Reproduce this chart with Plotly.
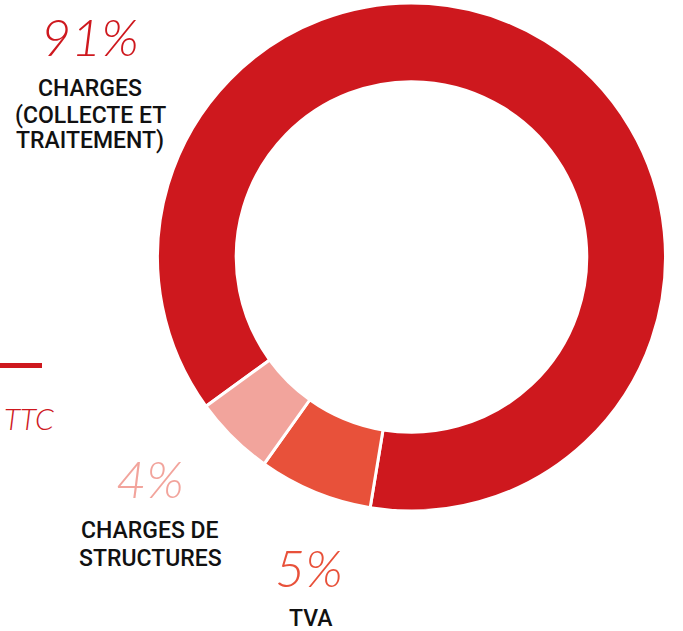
import plotly.graph_objects as go

W, H = 683, 631

# Data
categories = ["CHARGES (COLLECTE ET TRAITEMENT)", "TVA", "CHARGES DE STRUCTURES"]
values = [87.6, 7.25, 5.15]          # slice sizes as drawn
pct_labels = ["91%", "5%", "4%"]     # printed labels
colors = ["#CE181E", "#E8513A", "#F2A49C"]

fig = go.Figure()

cx, cy, r = 411.5, 257, 254
fig.add_trace(go.Pie(
    labels=categories,
    values=values,
    sort=False,
    direction="clockwise",
    rotation=234,
    hole=0.69,
    marker=dict(colors=colors, line=dict(color="white", width=3)),
    textinfo="none",
    hoverinfo="label+percent",
    showlegend=False,
    domain=dict(x=[(cx - r) / W, (cx + r) / W], y=[(H - cy - r) / H, (H - cy + r) / H]),
))

def px(x, y):
    return x / W, 1 - y / H

anns = []
def add_text(text, x, y, size, color, family="Roboto", weight=500, style="normal", xanchor="center"):
    ax, ay = px(x, y)
    anns.append(dict(text=text, x=ax, y=ay, xref="paper", yref="paper",
                     xanchor=xanchor, yanchor="middle", showarrow=False,
                     font=dict(family=family, size=size, color=color, weight=weight, style=style)))

pct_font = "Lato"
# 91%
add_text(pct_labels[0], 90, 36, 52, colors[0], family=pct_font, weight=300, style="italic")
add_text("CHARGES", 90, 89, 23, "#111111")
add_text("(COLLECTE ET", 90, 115, 23, "#111111")
add_text("TRAITEMENT)", 90, 141, 23, "#111111")
# 4%
add_text(pct_labels[2], 150, 478, 52, colors[2], family=pct_font, weight=300, style="italic")
add_text("CHARGES DE", 150, 530, 23, "#111111")
add_text("STRUCTURES", 150, 558, 23, "#111111")
# 5%
add_text(pct_labels[1], 309, 567, 52, colors[1], family=pct_font, weight=300, style="italic")
add_text("TVA", 311, 618, 23, "#111111")
# left fragment
add_text("TTC", 56, 418, 30, colors[0], family=pct_font, weight=300, style="italic", xanchor="right")

fig.update_layout(
    width=W, height=H,
    margin=dict(l=0, r=0, t=0, b=0),
    paper_bgcolor="white", plot_bgcolor="white",
    annotations=anns,
    shapes=[dict(type="rect", xref="paper", yref="paper",
                 x0=0, x1=42 / W, y0=1 - 368 / H, y1=1 - 363 / H,
                 fillcolor=colors[0], line=dict(width=0))],
)

fig.write_html("out.html", config={"displayModeBar": False},
               post_script="document.body.style.margin='0';")
